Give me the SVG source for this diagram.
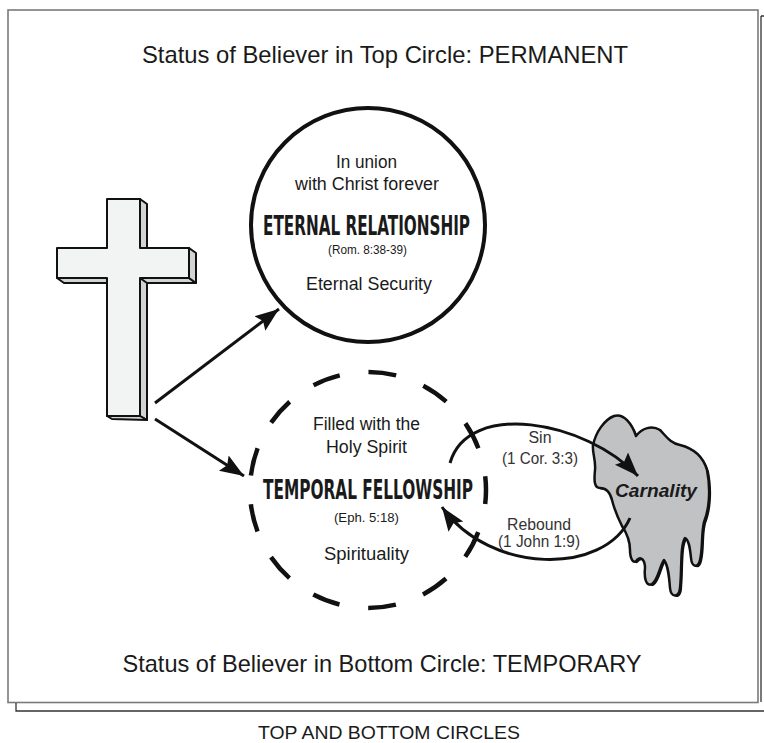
<svg xmlns="http://www.w3.org/2000/svg" width="764" height="743" viewBox="0 0 764 743">
<style>
text{font-family:"Liberation Sans",Arial,sans-serif;fill:#1a1a1a;text-anchor:middle}
.t{font-size:24px}
.b{font-size:17.5px}
.s{font-size:13px}
.h{font-family:"Liberation Sans Narrow","DejaVu Sans Condensed","Liberation Sans",sans-serif;font-weight:bold;font-size:26px}
.l{font-size:16px;fill:#333}
.arrow{fill:none;stroke:#111;stroke-width:3}
</style>
<defs>
<marker id="ah" markerUnits="userSpaceOnUse" markerWidth="26" markerHeight="20" refX="24" refY="10" orient="auto" viewBox="0 0 26 20">
<path d="M0,1 L24,10 L0,19 L4,10 Z" fill="#111"/>
</marker>
</defs>
<rect width="764" height="743" fill="#fff"/>
<g id="frame">
<rect x="8" y="10" width="750" height="692.5" fill="none" stroke="#7a7a7a" stroke-width="1.6"/>
<path d="M16,703 V711 H764 M761,16 V702 M761,16 H764" fill="none" stroke="#333" stroke-width="1.3"/>
</g>
<g id="title-top"><text class="t" x="385" y="62.5" textLength="486" lengthAdjust="spacingAndGlyphs">Status of Believer in Top Circle: PERMANENT</text></g>
<g id="cross" stroke="#111" stroke-width="2" stroke-linejoin="round">
<polygon points="140,199 147,204 147,248 140,248" fill="#d2d3d4"/>
<polygon points="57,278 189,278 196,283 64,283" fill="#d2d3d4"/>
<polygon points="189,248 196,253 196,283 189,278" fill="#d2d3d4"/>
<polygon points="140,278 147,283 147,420 140,416" fill="#d2d3d4"/>
<polygon points="107,416 140,416 147,420 112,419" fill="#d2d3d4"/>
<path d="M107,199 L140,199 L140,248 L189,248 L189,278 L140,278 L140,416 L107,416 L107,278 L57,278 L57,248 L107,248 Z" fill="#f2f3f3"/>
</g>
<g id="top-circle">
<circle cx="368" cy="225" r="117" fill="#fff" stroke="#111" stroke-width="4"/>
<text class="b" x="366.5" y="168" textLength="61" lengthAdjust="spacingAndGlyphs">In union</text>
<text class="b" x="367" y="190" textLength="144" lengthAdjust="spacingAndGlyphs">with Christ forever</text>
<text class="h" x="366.5" y="235" textLength="207" lengthAdjust="spacingAndGlyphs">ETERNAL RELATIONSHIP</text>
<text class="s" x="367.5" y="254" textLength="79" lengthAdjust="spacingAndGlyphs">(Rom. 8:38-39)</text>
<text class="b" x="369" y="290" textLength="126" lengthAdjust="spacingAndGlyphs">Eternal Security</text>
</g>
<g id="bottom-circle">
<circle cx="368" cy="490" r="118" fill="none" stroke="#111" stroke-width="4.5" stroke-dasharray="28 29.03" stroke-dashoffset="14"/>
<text class="b" x="366.5" y="430" textLength="107" lengthAdjust="spacingAndGlyphs">Filled with the</text>
<text class="b" x="366.5" y="453" textLength="81" lengthAdjust="spacingAndGlyphs">Holy Spirit</text>
<text class="h" x="368" y="499" textLength="210" lengthAdjust="spacingAndGlyphs">TEMPORAL FELLOWSHIP</text>
<text class="s" x="366.5" y="522" textLength="65" lengthAdjust="spacingAndGlyphs">(Eph. 5:18)</text>
<text class="b" x="366.5" y="560" textLength="85" lengthAdjust="spacingAndGlyphs">Spirituality</text>
</g>
<g id="carnality">
<path transform="translate(2,1.5)" d="M593,445 C596,432 604,420 614,416 C624,413 632,424 636,436 C642,428 652,425 660,430 C666,436 670,443 680,445 C692,448 703,456 707,470 C711,490 709,510 704,522 C701,535 703,548 700,560 C698,568 692,568 691,558 C690,548 689,540 685,538 C680,545 682,570 680,588 C679,598 671,598 670,588 C669,575 668,565 664,560 C660,565 658,580 652,584 C646,587 644,578 645,568 C645,560 641,556 637,560 C633,565 630,558 630,550 C630,540 626,532 622,526 C618,518 614,508 612,500 C610,492 606,488 600,488 C594,488 594,480 595,470 C596,460 592,452 593,445 Z" fill="#111"/>
<path d="M593,445 C596,432 604,420 614,416 C624,413 632,424 636,436 C642,428 652,425 660,430 C666,436 670,443 680,445 C692,448 703,456 707,470 C711,490 709,510 704,522 C701,535 703,548 700,560 C698,568 692,568 691,558 C690,548 689,540 685,538 C680,545 682,570 680,588 C679,598 671,598 670,588 C669,575 668,565 664,560 C660,565 658,580 652,584 C646,587 644,578 645,568 C645,560 641,556 637,560 C633,565 630,558 630,550 C630,540 626,532 622,526 C618,518 614,508 612,500 C610,492 606,488 600,488 C594,488 594,480 595,470 C596,460 592,452 593,445 Z" fill="#c1c2c4" stroke="#111" stroke-width="2.5" stroke-linejoin="round"/>
<text x="656" y="497" style="font-size:18px;font-weight:bold;font-style:italic" textLength="82" lengthAdjust="spacingAndGlyphs">Carnality</text>
</g>
<g id="connectors">
<path class="arrow" d="M155,403 L279,309" marker-end="url(#ah)"/>
<path class="arrow" d="M155,419 L244,476" marker-end="url(#ah)"/>
<path class="arrow" d="M450,463 C468,400 585,420 638,476" marker-end="url(#ah)"/>
<path class="arrow" d="M630,518 C605,575 490,575 442,507" marker-end="url(#ah)"/>
</g>
<g id="labels">
<text class="l" x="540" y="443" textLength="23" lengthAdjust="spacingAndGlyphs">Sin</text>
<text class="l" x="540" y="464" textLength="76" lengthAdjust="spacingAndGlyphs">(1 Cor. 3:3)</text>
<text class="l" x="539" y="530" textLength="64" lengthAdjust="spacingAndGlyphs">Rebound</text>
<text class="l" x="539" y="547" textLength="82" lengthAdjust="spacingAndGlyphs">(1 John 1:9)</text>
</g>
<g id="title-bottom"><text class="t" x="382" y="672" textLength="519" lengthAdjust="spacingAndGlyphs">Status of Believer in Bottom Circle: TEMPORARY</text></g>
<g id="caption"><text x="389" y="739" style="font-size:17.5px" textLength="262" lengthAdjust="spacingAndGlyphs">TOP AND BOTTOM CIRCLES</text></g>
</svg>
